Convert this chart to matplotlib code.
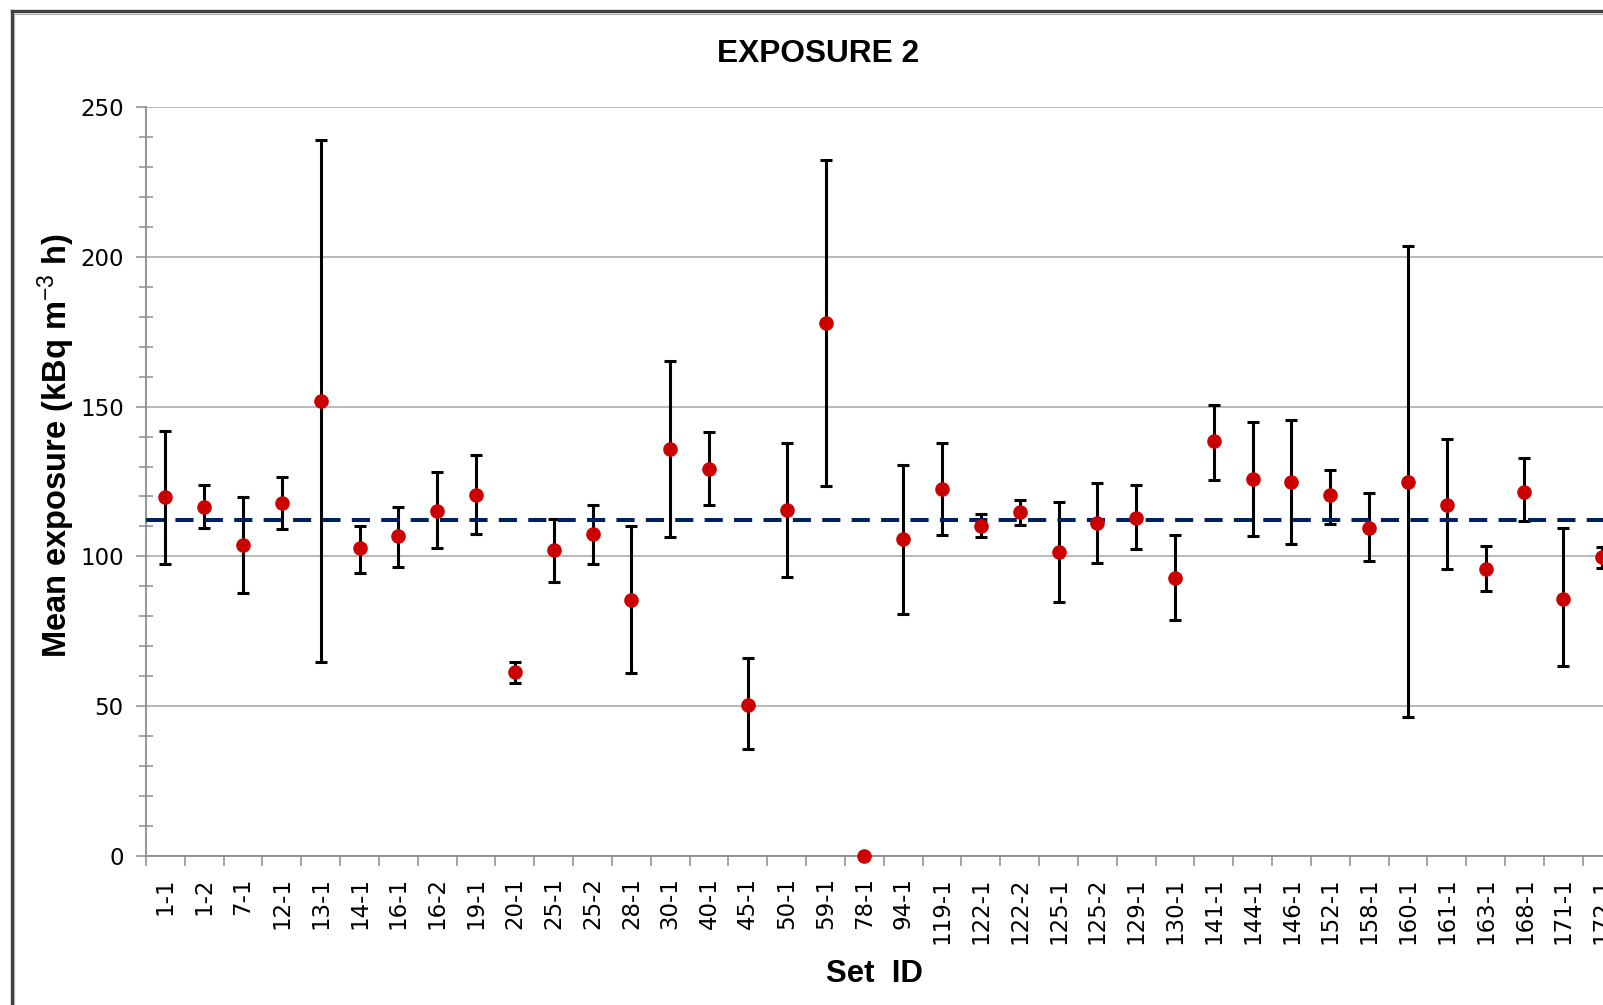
"""
EXPOSURE 2 - mean exposure per set, with error bars and overall mean line
"""

import numpy as np
import matplotlib
matplotlib.use("Agg")
import matplotlib.pyplot as plt
from matplotlib.lines import Line2D

plt.rcParams['font.family'] = ['DejaVu Sans']
plt.rcParams['mathtext.fontset'] = 'custom'
plt.rcParams['mathtext.rm'] = 'Liberation Sans'
plt.rcParams['mathtext.it'] = 'Liberation Sans'
plt.rcParams['mathtext.bf'] = 'Liberation Sans:bold'

# 데이터
set_ids = ['1-1', '1-2', '7-1', '12-1', '13-1', '14-1', '16-1', '16-2', '19-1',
           '20-1', '25-1', '25-2', '28-1', '30-1', '40-1', '45-1', '50-1', '59-1',
           '78-1', '94-1', '119-1', '122-1', '122-2', '125-1', '125-2', '129-1',
           '130-1', '141-1', '144-1', '146-1', '152-1', '158-1', '160-1', '161-1',
           '163-1', '168-1', '171-1', '172-1']
mean_exposure = [119.7, 116.6, 103.7, 117.7, 151.8, 102.7, 106.8, 115.3, 120.4,
                 61.4, 102.0, 107.4, 85.3, 135.7, 129.3, 50.5, 115.6, 178.0,
                 0.0, 105.7, 122.4, 110.2, 114.9, 101.3, 111.2, 112.9,
                 92.8, 138.5, 125.9, 124.8, 120.4, 109.5, 124.8, 117.3,
                 95.8, 121.4, 85.9, 99.9]
upper = [141.9, 123.8, 119.7, 126.5, 239.1, 110.2, 116.6, 128.2, 133.7,
         64.8, 112.6, 117.3, 110.2, 165.4, 141.5, 66.2, 137.8, 232.3,
         np.nan, 130.6, 137.8, 114.3, 118.7, 118.3, 124.5, 123.8,
         107.1, 150.7, 144.9, 145.6, 128.9, 121.1, 203.6, 139.2,
         103.3, 132.7, 109.5, 103.0]
lower = [97.5, 109.5, 87.7, 109.1, 64.8, 94.5, 96.5, 102.7, 107.4,
         57.6, 91.4, 97.5, 61.1, 106.4, 117.0, 35.5, 93.1, 123.5,
         np.nan, 80.8, 107.1, 106.4, 110.5, 84.6, 97.9, 102.3,
         78.8, 125.5, 106.8, 104.0, 110.8, 98.6, 46.4, 95.8,
         88.3, 111.9, 63.4, 96.2]
overall_mean = 112.0

W, H = 1603, 1005
fig = plt.figure(figsize=(W / 100, H / 100), dpi=100)

# 축은 그림 오른쪽 밖까지 이어짐 (원본이 잘려 있음)
ax = fig.add_axes([146 / W, 1 - 855.7 / H, 38 * 38.83 / W, (855.7 - 107.3) / H])

x = np.arange(len(set_ids))
y = np.array(mean_exposure)
yerr = np.vstack([y - np.array(lower), np.array(upper) - y])

ax.errorbar(x, y, yerr=yerr, fmt='none', ecolor='black', elinewidth=2.2,
            capsize=4.5, capthick=2.2, zorder=3)
ax.plot([-0.5, 37.1], [overall_mean, overall_mean], color='#002060',
        lw=2.9, ls=(0, (4.5, 2.8)), zorder=4)
ax.plot(x, y, 'o', color='#CC0000', markersize=10.5, markeredgewidth=0,
        zorder=5, clip_on=False)

ax.set_xlim(-0.5, len(set_ids) - 0.5)
ax.set_ylim(0, 250)
ax.set_yticks(np.arange(0, 251, 50))
ax.set_yticks(np.arange(0, 251, 10), minor=True)
ax.set_xticks(x)
ax.set_xticklabels(set_ids, rotation=90, fontsize=16.5)
ax.set_xticks(np.arange(-0.5, len(set_ids), 1), minor=True)

ax.tick_params(axis='y', which='major', labelsize=16.5, length=7, width=1.1,
               color='#8C8C8C', pad=9)
ax.tick_params(axis='y', which='minor', direction='inout', length=9.5,
               width=1.1, color='#8C8C8C')
ax.tick_params(axis='x', which='major', length=0, pad=15.5)
ax.tick_params(axis='x', which='minor', length=7, width=1.1, color='#8C8C8C')

ax.grid(axis='y', which='major', color='#A6A6A6', lw=1.1)
ax.set_axisbelow(True)
for side in ['top', 'right']:
    ax.spines[side].set_visible(False)
for side in ['left', 'bottom']:
    ax.spines[side].set_color('#8C8C8C')
    ax.spines[side].set_linewidth(1.3)

# 제목, 축 레이블
fig.text(818 / W, 1 - 54 / H, 'EXPOSURE 2', ha='center', va='center',
         fontsize=22.8, fontweight='bold', family='Liberation Sans')
fig.text(874 / W, 1 - 974 / H, 'Set  ID', ha='center', va='center',
         fontsize=22.4, fontweight='bold', family='Liberation Sans')
fig.text(56 / W, 1 - 446 / H, r'Mean exposure (kBq m$^{-3}$ h)', rotation=90,
         ha='center', va='center', fontsize=23.5, fontweight='bold',
         family='Liberation Sans')

# 차트 테두리 (위, 왼쪽)
fig.add_artist(Line2D([11.5 / W, 11.5 / W], [0, 1 - 11.5 / H],
                      transform=fig.transFigure, color='#404040', lw=2.4))
fig.add_artist(Line2D([11.5 / W, 1], [1 - 11.5 / H, 1 - 11.5 / H],
                      transform=fig.transFigure, color='#404040', lw=2.4))
fig.add_artist(Line2D([14.3 / W, 14.3 / W], [0, 1 - 14.3 / H],
                      transform=fig.transFigure, color='#B0B0B0', lw=0.8))
fig.add_artist(Line2D([14.3 / W, 1], [1 - 14.3 / H, 1 - 14.3 / H],
                      transform=fig.transFigure, color='#B0B0B0', lw=0.8))

fig.savefig('out.png', dpi=100)
